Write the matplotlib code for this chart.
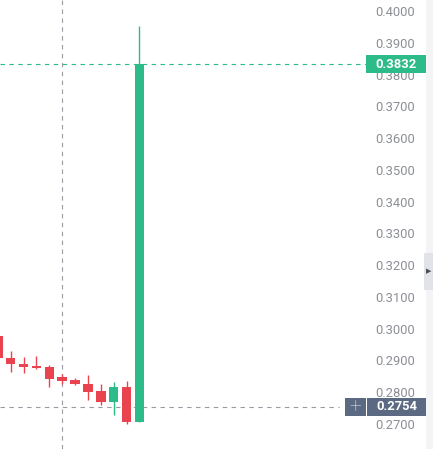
import matplotlib.pyplot as plt
import matplotlib.transforms as mtransforms
from matplotlib.patches import Rectangle

plt.rcParams['font.family'] = ['Roboto', 'DejaVu Sans']

# candle data, one entry per bar
opens = [0.2977, 0.2909, 0.2890, 0.2883, 0.2880, 0.2848, 0.2838, 0.2826, 0.2804, 0.2770, 0.2816, 0.2707]
closes = [0.2907, 0.2889, 0.2880, 0.2876, 0.2843, 0.2836, 0.2825, 0.2802, 0.2770, 0.2816, 0.2707, 0.3832]
highs = [0.2982, 0.2930, 0.2910, 0.2914, 0.2886, 0.2856, 0.2846, 0.2854, 0.2825, 0.2831, 0.2835, 0.3953]
lows = [0.2905, 0.2864, 0.2862, 0.2872, 0.2817, 0.2825, 0.2822, 0.2776, 0.2760, 0.2728, 0.2699, 0.2707]

last_price = 0.3832
cross_price = 0.2754
cross_bar = 5
price_ticks = [0.27, 0.28, 0.29, 0.30, 0.31, 0.32, 0.33, 0.34, 0.35, 0.36, 0.37, 0.38, 0.39, 0.40]

green = '#2dbb8a'
red = '#e9434f'
label_gray = '#8c8f96'
cross_col = '#979ba3'
dark_box = '#5b6a82'

W, H = 433, 449
fig = plt.figure(figsize=(W / 100, H / 100), dpi=100)
ax = fig.add_axes([0, 0, 366 / W, 1])

x = list(range(len(opens)))
colors = [green if c >= o else red for o, c in zip(opens, closes)]
ax.vlines(x, lows, highs, colors=colors, linewidth=1, zorder=2)
ax.bar(x, [c - o for o, c in zip(opens, closes)], bottom=opens, width=0.74,
       color=colors, linewidth=0, zorder=3)

ax.set_xlim(0.17, 28.6)
ax.set_ylim(0.26213, 0.40346)

for s in ax.spines.values():
    s.set_visible(False)
ax.set_xticks([])
ax.yaxis.tick_right()
ax.set_yticks(price_ticks)
ax.set_yticklabels([f'{t:.4f}' for t in price_ticks])
ax.tick_params(axis='y', length=0, pad=6.5, labelsize=9.4, labelcolor=label_gray)

# last price line and crosshair
ax.axhline(last_price, color=green, linestyle=(0, (4, 4)), linewidth=0.8, zorder=1)
ax.plot([0.17, 26.5], [cross_price, cross_price], color=cross_col,
        linestyle=(0, (4, 4)), linewidth=0.8, zorder=1)
ax.axvline(cross_bar, color=cross_col, linestyle=(0, (4, 4)), linewidth=0.8, zorder=1)

# price labels on the axis
tr = mtransforms.blended_transform_factory(fig.transFigure, ax.transData)
bh = 18 / 3177
fig.patches.append(Rectangle((426 / W, 0), 7 / W, 1, transform=fig.transFigure,
                             facecolor='#f3f4f6', edgecolor='none', zorder=0))
fig.patches.append(Rectangle((424 / W, (449 - 290) / H), 9 / W, 37 / H,
                             transform=fig.transFigure, facecolor='#e1e3e8',
                             edgecolor='none', zorder=1))
fig.text(428.5 / W, (449 - 271) / H, '\u25B6', fontsize=5, color='#4a4d55',
         ha='center', va='center', family='DejaVu Sans')

ax.add_patch(Rectangle((366 / W, last_price - bh / 2), 60 / W, bh, transform=tr,
                       facecolor=green, edgecolor='none', clip_on=False, zorder=5))
ax.text(396 / W, last_price, f'{last_price:.4f}', transform=tr, color='white',
        fontsize=9.4, fontweight='bold', ha='center', va='center', zorder=6)

ax.add_patch(Rectangle((345 / W, cross_price - bh / 2), 21 / W, bh, transform=tr,
                       facecolor=dark_box, edgecolor='none', clip_on=False, zorder=5))
ax.add_patch(Rectangle((367 / W, cross_price - bh / 2), 61 / W, bh, transform=tr,
                       facecolor=dark_box, edgecolor='none', clip_on=False, zorder=5))
ax.text(355.5 / W, cross_price, '+', transform=tr, color='#e4e7ee', fontsize=15,
        fontweight='light', ha='center', va='center', zorder=6)
ax.text(397 / W, cross_price, f'{cross_price:.4f}', transform=tr, color='white',
        fontsize=9.4, fontweight='bold', ha='center', va='center', zorder=6)

fig.savefig('out.png', dpi=100, facecolor='white')
